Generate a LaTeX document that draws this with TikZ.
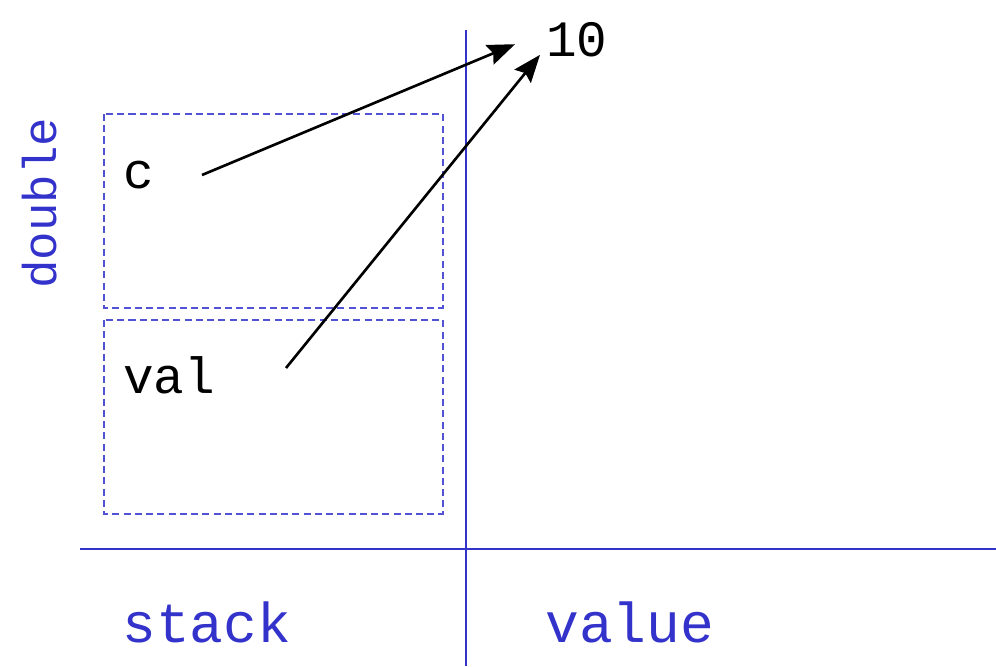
\documentclass[tikz,border=0pt]{standalone}
\usepackage{fontspec}
\setmonofont{Liberation Mono}
\usetikzlibrary{positioning, arrows.meta}
\definecolor{memblue}{RGB}{51,51,204}
\tikzset{
  lbl/.style    = {inner sep=0pt, anchor=base west, font=\ttfamily\fontsize{29}{31}\selectfont},
  axislbl/.style = {lbl, text=memblue, font=\ttfamily\fontsize{32}{34}\selectfont},
  axis/.style   = {draw=memblue, line width=1.6pt},
  slot/.style   = {draw=memblue!85, dash pattern=on 4pt off 2.4pt, line width=1.1pt},
  ptr/.style    = {-{Stealth[length=5.5mm, width=4.2mm, inset=0.8mm]}, line width=1.5pt},
}
\begin{document}
\begin{tikzpicture}[x=0.02cm, y=-0.02cm]
  \useasboundingbox (0,0) rectangle (996,666);

  % axes
  \draw[axis] (466,30) -- (466,666);
  \draw[axis] (80,549) -- (996,549);

  % stack slots
  \draw[slot] (104,114) rectangle (443,308);
  \draw[slot] (104,320) rectangle (443,514);

  \node[lbl]     at (123,188) (c)   {c};
  \node[lbl]     at (123,393) (val) {val};
  \node[lbl]     at (546,56)  (ten) {10};

  \node[axislbl] at (122,642) (stack) {stack};
  \node[axislbl] at (545,642) (value) {value};
  \node[axislbl, rotate=90, font=\ttfamily\fontsize{27}{29}\selectfont] at (56,289) (dbl) {double};

  \coordinate (cptr)   at (202,175);
  \coordinate (valptr) at (286,368);

  \draw[ptr] (cptr)   -- ([xshift=-0.62cm, yshift=-0.1cm]ten.west);
  \draw[ptr] (valptr) -- ([xshift=-0.12cm, yshift=0.04cm]ten.south west);
\end{tikzpicture}
\end{document}
